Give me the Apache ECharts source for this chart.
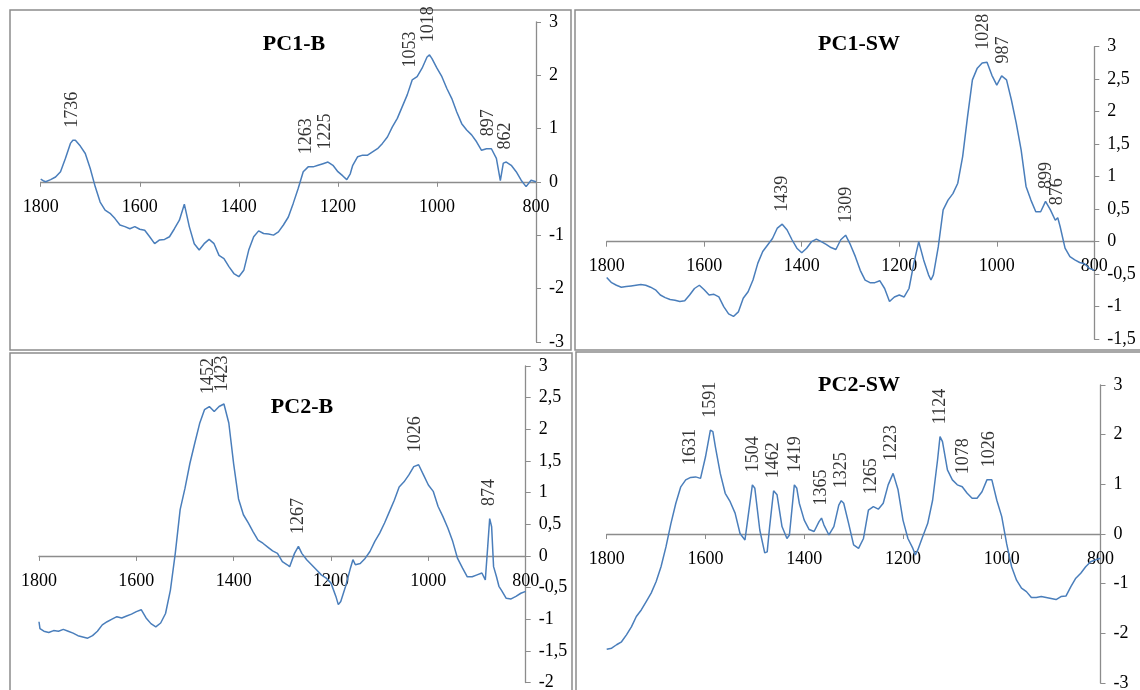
<!DOCTYPE html>
<html>
<head>
<meta charset="utf-8">
<script src="https://cdn.jsdelivr.net/npm/echarts@6/dist/echarts.min.js"></script>
<style>
  html, body { margin: 0; padding: 0; background: #fff; }
  #container { width: 1140px; height: 690px; }
</style>
</head>
<body>
<div id="container"></div>
<script>
// loadings, [wavenumber, value]
const pc1B = [
  [1800,0.05],[1795,0.02],[1790,0.0],[1780,0.04],[1770,0.09],[1760,0.19],[1750,0.44],[1740,0.72],[1735,0.78],[1730,0.78],
  [1720,0.67],[1710,0.53],[1700,0.25],[1690,-0.09],[1680,-0.38],[1670,-0.53],[1660,-0.59],[1650,-0.69],[1640,-0.81],[1630,-0.84],
  [1620,-0.88],[1610,-0.84],[1600,-0.89],[1590,-0.91],[1580,-1.03],[1570,-1.16],[1560,-1.09],[1550,-1.08],[1540,-1.03],[1530,-0.88],
  [1520,-0.72],[1510,-0.42],[1500,-0.84],[1490,-1.16],[1480,-1.28],[1470,-1.16],[1460,-1.08],[1450,-1.16],[1440,-1.38],[1430,-1.44],
  [1420,-1.59],[1410,-1.72],[1400,-1.78],[1390,-1.66],[1380,-1.28],[1370,-1.03],[1360,-0.92],[1350,-0.97],[1340,-0.98],[1330,-1.0],
  [1320,-0.94],[1310,-0.81],[1300,-0.66],[1290,-0.4],[1280,-0.12],[1270,0.19],[1260,0.28],[1250,0.28],[1240,0.31],[1230,0.34],
  [1220,0.37],[1210,0.31],[1200,0.19],[1190,0.11],[1182,0.04],[1175,0.15],[1170,0.31],[1160,0.47],[1150,0.5],[1140,0.5],
  [1130,0.56],[1120,0.62],[1110,0.72],[1100,0.84],[1090,1.03],[1080,1.19],[1070,1.41],[1060,1.63],[1050,1.91],[1040,1.97],
  [1030,2.13],[1020,2.34],[1015,2.38],[1010,2.31],[1000,2.13],[990,1.97],[980,1.75],[970,1.56],[960,1.31],[950,1.09],
  [940,0.97],[930,0.88],[920,0.75],[910,0.59],[900,0.62],[890,0.62],[880,0.44],[872,0.02],[866,0.35],[860,0.37],
  [850,0.31],[840,0.19],[830,0.03],[820,-0.09],[810,0.03],[800,0.0]
];
const pc1SW = [
  [1800,-0.55],[1790,-0.63],[1780,-0.67],[1770,-0.70],[1760,-0.69],[1750,-0.68],[1740,-0.67],[1730,-0.66],[1720,-0.67],[1710,-0.70],
  [1700,-0.74],[1690,-0.82],[1680,-0.86],[1670,-0.89],[1660,-0.90],[1650,-0.92],[1640,-0.91],[1630,-0.82],[1620,-0.72],[1610,-0.67],
  [1600,-0.74],[1590,-0.82],[1580,-0.81],[1570,-0.85],[1560,-1.0],[1550,-1.11],[1540,-1.15],[1530,-1.08],[1520,-0.87],[1510,-0.77],
  [1500,-0.59],[1490,-0.33],[1480,-0.15],[1470,-0.05],[1460,0.05],[1450,0.21],[1440,0.27],[1430,0.18],[1420,0.03],[1410,-0.10],
  [1400,-0.17],[1390,-0.10],[1380,0.0],[1370,0.04],[1360,0.0],[1350,-0.04],[1340,-0.09],[1330,-0.12],[1320,0.03],[1310,0.10],
  [1300,-0.05],[1290,-0.23],[1280,-0.44],[1270,-0.59],[1260,-0.63],[1250,-0.63],[1240,-0.60],[1230,-0.72],[1220,-0.92],[1210,-0.85],
  [1200,-0.82],[1190,-0.85],[1180,-0.72],[1170,-0.33],[1160,0.0],[1150,-0.28],[1140,-0.51],[1135,-0.59],[1130,-0.51],[1120,-0.08],
  [1110,0.49],[1100,0.64],[1090,0.74],[1080,0.90],[1070,1.31],[1060,1.92],[1050,2.49],[1040,2.67],[1030,2.75],[1020,2.76],
  [1010,2.56],[1000,2.41],[990,2.55],[980,2.49],[970,2.18],[960,1.82],[950,1.41],[940,0.85],[930,0.64],[920,0.46],
  [910,0.46],[900,0.62],[890,0.49],[880,0.33],[875,0.37],[870,0.23],[860,-0.10],[850,-0.23],[840,-0.28],[830,-0.32],
  [820,-0.34],[810,-0.41],[800,-0.44]
];
const pc2B = [
  [1800,-1.04],[1798,-1.15],[1790,-1.19],[1780,-1.21],[1770,-1.18],[1760,-1.19],[1750,-1.16],[1740,-1.19],[1730,-1.22],[1720,-1.26],
  [1710,-1.28],[1700,-1.30],[1690,-1.26],[1680,-1.19],[1670,-1.09],[1660,-1.04],[1650,-1.0],[1640,-0.96],[1630,-0.98],[1620,-0.95],
  [1610,-0.92],[1600,-0.88],[1590,-0.85],[1580,-0.98],[1570,-1.07],[1560,-1.12],[1550,-1.06],[1540,-0.91],[1530,-0.54],[1520,0.04],
  [1510,0.73],[1500,1.07],[1490,1.46],[1480,1.78],[1470,2.09],[1460,2.31],[1450,2.36],[1440,2.28],[1430,2.36],[1420,2.40],
  [1410,2.10],[1400,1.45],[1390,0.90],[1380,0.65],[1370,0.52],[1360,0.38],[1350,0.25],[1340,0.20],[1330,0.14],[1320,0.08],
  [1310,0.04],[1300,-0.09],[1290,-0.14],[1285,-0.17],[1275,0.04],[1267,0.15],[1260,0.04],[1250,-0.06],[1240,-0.14],[1230,-0.22],
  [1220,-0.30],[1210,-0.35],[1200,-0.43],[1190,-0.64],[1185,-0.77],[1180,-0.72],[1170,-0.48],[1160,-0.19],[1155,-0.06],[1150,-0.14],
  [1140,-0.12],[1130,-0.04],[1120,0.07],[1110,0.23],[1100,0.36],[1090,0.52],[1080,0.70],[1070,0.88],[1060,1.09],[1050,1.17],
  [1040,1.28],[1030,1.41],[1020,1.44],[1010,1.28],[1000,1.12],[990,1.02],[980,0.78],[970,0.62],[960,0.44],[950,0.23],
  [940,-0.04],[930,-0.19],[920,-0.33],[910,-0.33],[900,-0.30],[890,-0.27],[883,-0.38],[878,0.15],[874,0.59],[870,0.46],
  [866,-0.17],[860,-0.33],[855,-0.48],[850,-0.54],[840,-0.67],[830,-0.68],[820,-0.64],[810,-0.59],[800,-0.56]
];
const pc2SW = [
  [1800,-2.32],[1790,-2.30],[1780,-2.23],[1770,-2.17],[1760,-2.03],[1750,-1.87],[1740,-1.66],[1730,-1.53],[1720,-1.36],[1710,-1.19],
  [1700,-0.96],[1690,-0.66],[1680,-0.26],[1670,0.21],[1660,0.62],[1650,0.95],[1640,1.09],[1630,1.14],[1620,1.15],[1610,1.12],
  [1600,1.55],[1590,2.09],[1585,2.06],[1580,1.76],[1570,1.22],[1560,0.82],[1550,0.65],[1540,0.42],[1530,0.01],[1520,-0.12],
  [1510,0.62],[1505,0.99],[1500,0.92],[1490,0.08],[1480,-0.38],[1475,-0.36],[1470,0.15],[1462,0.87],[1455,0.79],[1445,0.15],
  [1435,-0.09],[1430,-0.02],[1420,0.99],[1415,0.92],[1410,0.62],[1400,0.28],[1390,0.09],[1380,0.05],[1370,0.25],[1365,0.32],
  [1360,0.18],[1350,-0.02],[1340,0.15],[1330,0.58],[1325,0.67],[1320,0.62],[1310,0.21],[1300,-0.22],[1290,-0.29],[1280,-0.09],
  [1270,0.48],[1260,0.55],[1250,0.50],[1240,0.62],[1230,0.99],[1220,1.22],[1210,0.89],[1200,0.28],[1190,-0.09],[1180,-0.29],
  [1175,-0.42],[1170,-0.32],[1160,-0.05],[1150,0.21],[1140,0.68],[1130,1.49],[1125,1.96],[1120,1.86],[1110,1.29],[1100,1.09],
  [1090,0.99],[1080,0.95],[1070,0.82],[1060,0.72],[1050,0.72],[1040,0.85],[1030,1.09],[1020,1.09],[1010,0.68],[1000,0.35],
  [990,-0.2],[980,-0.66],[970,-0.93],[960,-1.09],[950,-1.16],[940,-1.28],[930,-1.28],[920,-1.26],[910,-1.28],[900,-1.30],
  [890,-1.32],[880,-1.26],[870,-1.25],[860,-1.06],[850,-0.89],[840,-0.79],[830,-0.66],[820,-0.56],[810,-0.52],[800,-0.49]
];

// annotated band positions
const pc1BPeaks = [1736, 1263, 1225, 1053, 1018, 897, 862];
const pc1SWPeaks = [1439, 1309, 1028, 987, 899, 876];
const pc2BPeaks = [1452, 1423, 1267, 1026, 874];
const pc2SWPeaks = [1631, 1591, 1504, 1462, 1419, 1365, 1325, 1265, 1223, 1124, 1078, 1026];

const titles = ['PC1-B', 'PC1-SW', 'PC2-B', 'PC2-SW'];
const xTicks = [800, 1800, 200];           // min, max, step
const yRanges = [[-3, 3, 1], [-1.5, 3, 0.5], [-2, 3, 0.5], [-3, 3, 1]];

const SERIF = '"Liberation Serif", "Times New Roman", serif';
const LINE = '#4A7EBB';
const AXIS = '#8c8c8c';

// highest point of the curve near a band, to hang its label on
function peakAt(data, w) {
  let best = null;
  data.forEach(p => {
    if (Math.abs(p[0] - w) <= 8 && (best === null || p[1] > best)) best = p[1];
  });
  if (best === null) {
    let near = data[0];
    data.forEach(p => { if (Math.abs(p[0] - w) < Math.abs(near[0] - w)) near = p; });
    best = near[1];
  }
  return best;
}

let myChart = echarts.init(document.getElementById('container'), null, { renderer: 'canvas' });

const grids = [
  { left: 40.7, top: 21.8, width: 495.3, height: 320 },
  { left: 606.7, top: 46.7, width: 487.6, height: 292.5 },
  { left: 39, top: 366, width: 486.7, height: 316.5 },
  { left: 606.7, top: 385, width: 493.8, height: 298 }
];
const curves = [pc1B, pc1SW, pc2B, pc2SW];
const peaks = [pc1BPeaks, pc1SWPeaks, pc2BPeaks, pc2SWPeaks];

// Excel style: the category axis sits on y = 0, labels included
const zeroOffset = (g, r) => -g.height * (0 - r[0]) / (r[1] - r[0]);

let option = {
  animation: false,
  backgroundColor: '#fff',
  grid: grids.map(g => Object.assign({ outerBoundsMode: 'none', containLabel: false }, g)),
  xAxis: grids.map((g, i) => ({
    type: 'value',
    gridIndex: i,
    position: 'bottom',
    offset: zeroOffset(g, yRanges[i]),
    min: xTicks[0],
    max: xTicks[1],
    interval: xTicks[2],
    inverse: true,
    axisLine: { onZero: false, lineStyle: { color: AXIS, width: 1.3 } },
    axisTick: { show: true, inside: false, length: 5, lineStyle: { color: AXIS } },
    axisLabel: {
      margin: 16,
      color: '#000',
      fontFamily: SERIF,
      fontSize: 18,
      formatter: v => String(v)
    },
    splitLine: { show: false }
  })),
  yAxis: yRanges.map((r, i) => ({
    type: 'value',
    gridIndex: i,
    position: 'right',
    min: r[0],
    max: r[1],
    interval: r[2],
    axisLine: { show: true, onZero: false, lineStyle: { color: AXIS, width: 1.3 } },
    axisTick: { show: true, inside: false, length: 5, lineStyle: { color: AXIS } },
    axisLabel: {
      margin: 13,
      color: '#000',
      fontFamily: SERIF,
      fontSize: 18,
      formatter: v => String(v).replace('.', ',')
    },
    splitLine: { show: false }
  })),
  series: [],
  graphic: [
    { type: 'rect', shape: { x: 10, y: 10, width: 561, height: 340 }, style: { fill: 'none', stroke: AXIS, lineWidth: 1.5 } },
    { type: 'rect', shape: { x: 575, y: 10, width: 580, height: 340 }, style: { fill: 'none', stroke: AXIS, lineWidth: 1.5 } },
    { type: 'rect', shape: { x: 10, y: 353, width: 562, height: 350 }, style: { fill: 'none', stroke: AXIS, lineWidth: 1.5 } },
    { type: 'rect', shape: { x: 576, y: 352, width: 580, height: 350 }, style: { fill: 'none', stroke: AXIS, lineWidth: 1.5 } },
    { type: 'text', x: 294, y: 44, style: { text: titles[0], font: 'bold 22px ' + SERIF, fill: '#000', align: 'center', verticalAlign: 'middle' } },
    { type: 'text', x: 859, y: 44, style: { text: titles[1], font: 'bold 22px ' + SERIF, fill: '#000', align: 'center', verticalAlign: 'middle' } },
    { type: 'text', x: 302, y: 407, style: { text: titles[2], font: 'bold 22px ' + SERIF, fill: '#000', align: 'center', verticalAlign: 'middle' } },
    { type: 'text', x: 859, y: 385, style: { text: titles[3], font: 'bold 22px ' + SERIF, fill: '#000', align: 'center', verticalAlign: 'middle' } }
  ]
};

curves.forEach((data, i) => {
  option.series.push({
    name: titles[i],
    type: 'line',
    xAxisIndex: i,
    yAxisIndex: i,
    showSymbol: false,
    data: data,
    lineStyle: { color: LINE, width: 1.5 },
    z: 3
  });
  option.series.push({
    name: titles[i] + ' bands',
    type: 'scatter',
    xAxisIndex: i,
    yAxisIndex: i,
    symbolSize: 1,
    itemStyle: { color: 'rgba(0,0,0,0)' },
    data: peaks[i].map(w => [w, peakAt(data, w)]),
    label: {
      show: true,
      position: 'top',
      distance: 12,
      rotate: 90,
      align: 'left',
      verticalAlign: 'middle',
      color: '#000',
      fontFamily: SERIF,
      fontSize: 18,
      formatter: p => String(p.value[0])
    },
    z: 4
  });
});

myChart.setOption(option);
</script>
</body>
</html>
